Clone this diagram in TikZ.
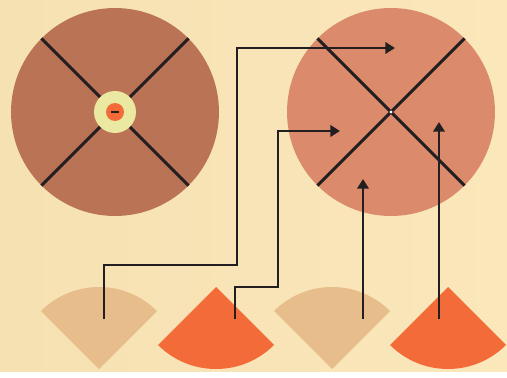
\documentclass[tikz,border=0pt]{standalone}
\usetikzlibrary{arrows.meta, positioning}

\definecolor{bgleft}{HTML}{F6E1B2}
\definecolor{bgright}{HTML}{FAE7BA}
\definecolor{rust}{HTML}{BA7455}
\definecolor{salmon}{HTML}{DB8A6C}
\definecolor{flame}{HTML}{F26B38}
\definecolor{sand}{HTML}{E8BD8C}
\definecolor{pale}{HTML}{EBE8A2}
\definecolor{ink}{HTML}{231F20}

\begin{document}
\begin{tikzpicture}[>={Triangle[length=5.5pt, width=6.5pt]}, x=0.02cm, y=0.02cm,
    disk/.style={circle, inner sep=0pt, outer sep=0pt},
    spoke/.style={ink, line width=1.8pt},
    link/.style={ink, line width=1.5pt, ->}]
  % background
  \fill[left color=bgleft, right color=bgright] (0,0) rectangle (507,371);

  % left wheel with hub
  \node[disk, fill=rust, minimum size=4.16cm] (wheelA) at (115,259) {};
  \draw[spoke] (wheelA.north east) -- (wheelA.south west);
  \draw[spoke] (wheelA.north west) -- (wheelA.south east);
  \node[disk, fill=pale, minimum size=0.84cm] (hubA) at (wheelA) {};
  \node[disk, fill=flame, minimum size=0.36cm] (coreA) at (wheelA) {};
  \draw[ink, line width=0.7pt] ([xshift=-2pt]coreA.center) -- ([xshift=2pt]coreA.center);

  % right wheel
  \node[disk, fill=salmon, minimum size=4.16cm] (wheelB) at (391,259) {};
  \draw[spoke] (wheelB.north east) -- (wheelB.south west);
  \draw[spoke] (wheelB.north west) -- (wheelB.south east);
  \fill[white] (wheelB) circle (1.6);

  % fans: up-facing sand, down-facing flame
  \foreach \x in {99, 332} {
    \fill[sand] (\x,2) -- ++(45:82) arc[start angle=45, end angle=135, radius=82] -- cycle;
  }
  \foreach \x in {216, 448} {
    \fill[flame] (\x,84) -- ++(225:82) arc[start angle=225, end angle=315, radius=82] -- cycle;
  }

  % connector ends
  \coordinate (srcA) at (104,52);
  \coordinate (srcB) at (235,52);
  \coordinate (srcC) at (363,52);
  \coordinate (srcD) at (439,52);
  \coordinate (inA) at (395,323);
  \coordinate (inB) at (340,240);
  \coordinate (inC) at (363,192);
  \coordinate (inD) at (439,249);

  \draw[link] (srcA) |- (237,106) |- (inA);
  \draw[link] (srcB) |- (278,84) |- (inB);
  \draw[link] (srcC) -- (inC);
  \draw[link] (srcD) -- (inD);
\end{tikzpicture}
\end{document}
